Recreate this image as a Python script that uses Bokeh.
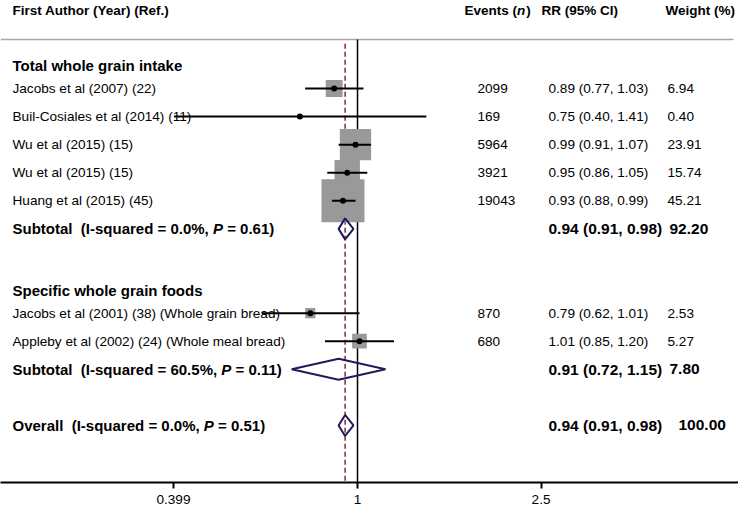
import math
from bokeh.plotting import figure
from bokeh.models import Range1d, FixedTicker, CustomJSTickFormatter, ColumnDataSource
from bokeh.core.properties import value
from bokeh.embed import file_html
from bokeh.resources import INLINE

# ---------------- data ----------------
study_labels = ["Jacobs et al (2007) (22)", "Buil-Cosiales et al (2014) (11)",
                "Wu et al (2015) (15)", "Wu et al (2015) (15)", "Huang et al (2015) (45)",
                "Jacobs et al (2001) (38) (Whole grain bread)",
                "Appleby et al (2002) (24) (Whole meal bread)"]
study_group = [0, 0, 0, 0, 0, 1, 1]
study_events = ["2099", "169", "5964", "3921", "19043", "870", "680"]
study_rr = [0.89, 0.75, 0.99, 0.95, 0.93, 0.79, 1.01]
study_lo = [0.77, 0.40, 0.91, 0.86, 0.88, 0.62, 0.85]
study_hi = [1.03, 1.41, 1.07, 1.05, 0.99, 1.01, 1.20]
study_weight = [6.94, 0.40, 23.91, 15.74, 45.21, 2.53, 5.27]

group_names = ["Total whole grain intake", "Specific whole grain foods"]
pooled_names = ["Subtotal", "Subtotal", "Overall"]
pooled_i2 = ["0.0%", "60.5%", "0.0%"]
pooled_p = ["0.61", "0.11", "0.51"]
pooled_rr = [0.94, 0.91, 0.94]
pooled_lo = [0.91, 0.72, 0.91]
pooled_hi = [0.98, 1.15, 0.98]
pooled_weight = ["92.20", "7.80", "100.00"]

overall_rr = 0.94
null_rr = 1.0
tick_values = [0.399, 1, 2.5]
tick_labels = ["0.399", "1", "2.5"]

# ---------------- layout helpers ----------------
FONT = "Liberation Sans"
PX_PER_LN = 200.3      # pixels per natural-log unit
PX_AT_ONE = 357.0      # page x of RR = 1
ROW_PX = 28.08
NBSP = "\u00a0"

def px2x(px):
    return math.exp((px - PX_AT_ONE) / PX_PER_LN)

FW, FH = 738, 482
x_start, x_end = px2x(0), px2x(FW)
y_top = (0 - 88) / ROW_PX
y_bot = (FH - 88) / ROW_PX

# Arial-bold advance widths (em/1000) for offset of italic pieces
BOLD_W = {' ': 278, NBSP: 278, '(': 333, ')': 333, '%': 889, ',': 278, '-': 333, '.': 278,
          '=': 584, 'I': 278, 'S': 667, 'O': 778, 'E': 667, 'P': 667, 'a': 556, 'b': 611,
          'd': 611, 'e': 556, 'l': 278, 'o': 611, 'q': 611, 'r': 389, 's': 556, 't': 333,
          'u': 611, 'v': 556, 'n': 611}
def bold_width(s, size):
    return sum(BOLD_W.get(c, 556) for c in s) / 1000.0 * size

# rows
study_row, pooled_row, header_row = [], [], []
r = -1
for g in range(len(group_names)):
    header_row.append(r + 0.18)
    r += 1
    for i, sg in enumerate(study_group):
        if sg == g:
            study_row.append(r)
            r += 1
    pooled_row.append(r)
    r += 2
pooled_row.append(r)

p = figure(frame_width=FW, frame_height=FH, output_backend="svg", toolbar_location=None,
           x_axis_type="log", x_range=Range1d(x_start, x_end), y_range=Range1d(y_bot, y_top),
           min_border=0, y_axis_location=None, background_fill_color="white",
           border_fill_color="white")
p.outline_line_color = None
p.xgrid.visible = False
p.ygrid.visible = False

hdr_y = (39 - 88) / ROW_PX
rule_end = px2x(733)
# header rule
p.segment(x0=[x_start], y0=[hdr_y], x1=[rule_end], y1=[hdr_y], line_color="#a6a6a6", line_width=1.5)
# null line and overall line
p.segment(x0=[null_rr], y0=[hdr_y], x1=[null_rr], y1=[y_bot], line_color="black", line_width=1.5)
p.segment(x0=[overall_rr], y0=[hdr_y + 0.15], x1=[overall_rr], y1=[y_bot], line_color="#8b2535",
          line_width=1.5, line_dash="5 3")

# study squares, CIs and points
src = ColumnDataSource(dict(rr=study_rr, lo=study_lo, hi=study_hi, y=study_row,
                            size=[6.4 * math.sqrt(w) for w in study_weight]))
p.scatter(x="rr", y="y", size="size", marker="square", source=src, fill_color="#999999",
          line_color=None)
p.segment(x0="lo", y0="y", x1="hi", y1="y", source=src, line_color="black", line_width=2)
p.scatter(x="rr", y="y", size=6, marker="circle", source=src, fill_color="black", line_color=None)

# diamonds
dh = 10.5 / ROW_PX
xs = [[lo, rr, hi, rr] for lo, rr, hi in zip(pooled_lo, pooled_rr, pooled_hi)]
ys = [[y, y - dh, y, y + dh] for y in pooled_row]
p.patches(xs=xs, ys=ys, fill_color=None, line_color="#1c1c5c", line_width=2)

# ---------------- texts ----------------
REG = "13.6px"
BOLD = 15
HDR = 13.5
def txt(xpx, y, texts, size=REG, style="normal", color="black"):
    n = len(texts)
    xs_ = xpx if isinstance(xpx, list) else [xpx] * n
    p.text(x=[px2x(v) for v in xs_], y=y, text=texts, text_font=value(FONT),
           text_font_size=size, text_font_style=style, text_color=color,
           text_baseline="middle", text_align="left")

hy = (10 - 88) / ROW_PX
txt(12, [hy], ["First Author (Year) (Ref.)"], size=f"{HDR}px", style="bold")
txt(464, [hy], ["Events ("], size=f"{HDR}px", style="bold")
w1 = bold_width("Events (", HDR)
txt(464 + w1, [hy], ["n"], size=f"{HDR}px", style="bold italic")
txt(464 + w1 + bold_width("n", HDR) + 1, [hy], [")"], size=f"{HDR}px", style="bold")
txt(541, [hy], ["RR (95% CI)"], size=f"{HDR}px", style="bold")
txt(665, [hy], ["Weight (%)"], size=f"{HDR}px", style="bold")

txt(12, header_row, group_names, size=f"{BOLD}px", style="bold")
txt(12, study_row, study_labels)
txt(477, study_row, study_events)
txt(548, study_row, [f"{a:.2f} ({b:.2f}, {c:.2f})" for a, b, c in zip(study_rr, study_lo, study_hi)])
txt(667, study_row, [f"{w:.2f}" for w in study_weight])

for name, i2, pv, y in zip(pooled_names, pooled_i2, pooled_p, pooled_row):
    pre = f"{name} {NBSP}(I-squared = {i2},{NBSP}"
    txt(12, [y], [pre], size=f"{BOLD}px", style="bold")
    xp = 12 + bold_width(pre, BOLD)
    txt(xp, [y], ["P"], size=f"{BOLD}px", style="bold italic")
    txt(xp + bold_width("P", BOLD), [y], [f"{NBSP}= {pv})"], size=f"{BOLD}px", style="bold")

txt(548, pooled_row, [f"{a:.2f} ({b:.2f}, {c:.2f})" for a, b, c in zip(pooled_rr, pooled_lo, pooled_hi)],
    size="15.5px", style="bold")
txt([669, 669, 678], pooled_row, pooled_weight, size="15.5px", style="bold")

# ---------------- axis ----------------
ax = p.xaxis[0]
ax.ticker = FixedTicker(ticks=tick_values)
ax.formatter = CustomJSTickFormatter(args=dict(vals=tick_values, labs=tick_labels), code="""
const i = vals.findIndex(v => Math.abs(v - tick) < 1e-9);
return i >= 0 ? labs[i] : '';
""")
ax.axis_line_width = 2
ax.axis_line_color = "black"
ax.major_tick_line_width = 2
ax.major_tick_line_color = "black"
ax.major_tick_out = 6
ax.major_tick_in = 0
ax.minor_tick_out = 0
ax.minor_tick_in = 0
ax.major_label_text_font = FONT
ax.major_label_text_font_size = REG
ax.major_label_text_color = "black"
ax.major_label_standoff = 6

open("out.html", "w").write(file_html(p, INLINE))
